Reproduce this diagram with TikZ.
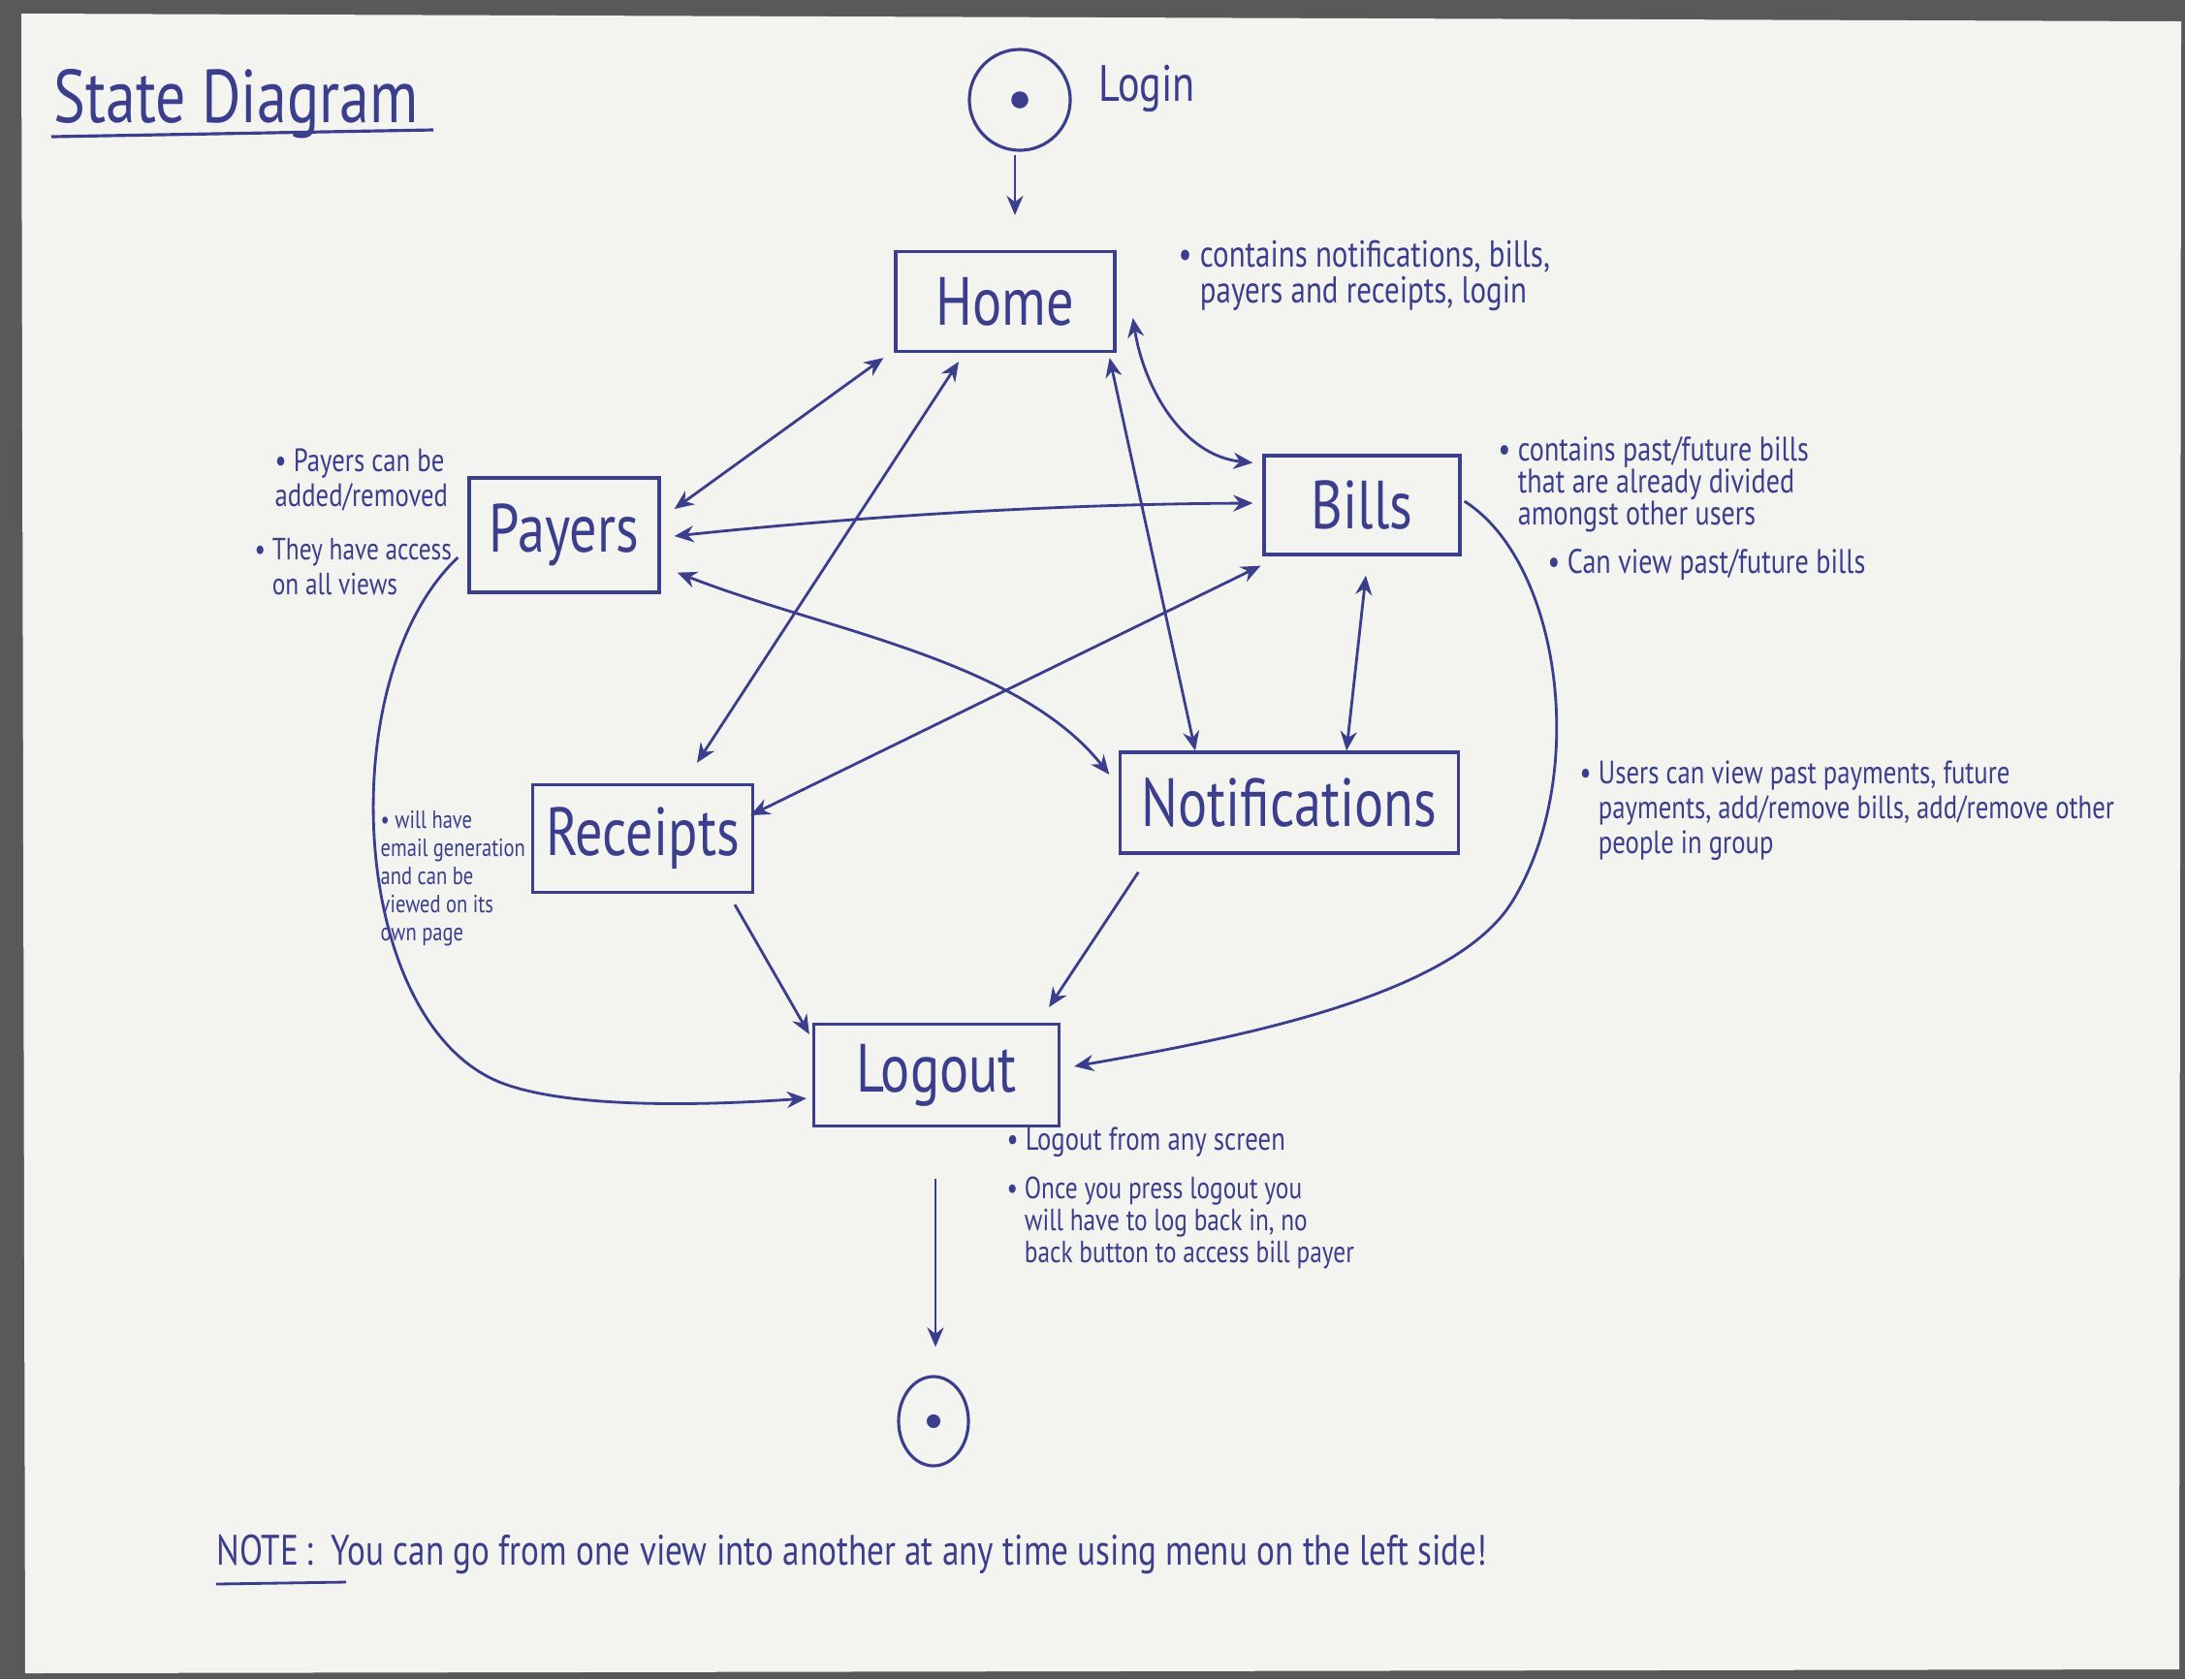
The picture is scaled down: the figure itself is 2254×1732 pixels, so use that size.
\documentclass[tikz,border=0pt]{standalone}
\usepackage{fontspec}
\setmainfont{PT Sans}[FakeStretch=0.8]
\usepackage{tikz}
\usetikzlibrary{arrows.meta,calc,shapes.geometric}
\definecolor{ink}{RGB}{58,62,140}
\definecolor{paper}{RGB}{243,243,240}
\newcommand{\noteind}{\phantom{\textbullet\ }}

\begin{document}
\begin{tikzpicture}[x=0.01cm,y=-0.01cm,
  state/.style={shape=rectangle,draw=ink,line width=0.9pt,text=ink,inner sep=0pt,font=\fontsize{20}{20}\selectfont},
  note/.style={anchor=north west,align=left,inner sep=0pt,text=ink},
  link/.style={draw=ink,line width=0.8pt,{Stealth[length=2mm,width=1.7mm]}-{Stealth[length=2mm,width=1.7mm]}},
  oneway/.style={draw=ink,line width=0.8pt,-{Stealth[length=2mm,width=1.7mm]}}]

	\fill[black!65] (0,0) rectangle (2254,1732);
	\fill[paper] (22,14) -- (2250,22) -- (2248,1722) -- (26,1726) -- cycle;

	\node[text=ink,anchor=base west,inner sep=0pt,font=\fontsize{22}{22}\selectfont] (title) at (55,126) {State Diagram};
	\draw[ink,line width=0.9pt] ($(title.base west)+(-2,15)$) -- ($(title.base west)+(392,8)$);

	\node[shape=circle,draw=ink,line width=0.9pt,minimum size=1.04cm] (login) at (1052,103) {};
	\fill[ink] (login) circle[radius=2.5pt];
	\node[text=ink,anchor=base west,inner sep=0pt,font=\fontsize{15}{15}\selectfont] (logintxt) at (1133,104) {Login};

	\node[state,minimum width=2.26cm,minimum height=1.03cm] (home) at (1037,311) {Home};
	\node[state,minimum width=1.96cm,minimum height=1.18cm] (payers) at (582,552) {Payers};
	\node[state,minimum width=2.02cm,minimum height=1.02cm] (bills) at (1405,521) {Bills};
	\node[state,minimum width=2.27cm,minimum height=1.11cm] (receipts) at (663,865) {Receipts};
	\node[state,minimum width=3.48cm,minimum height=1.04cm] (notif) at (1330,828) {Notifications};
	\node[state,minimum width=2.53cm,minimum height=1.05cm] (logout) at (966,1109) {Logout};

	\node[shape=ellipse,draw=ink,line width=0.9pt,minimum width=0.72cm,minimum height=0.92cm,inner sep=0pt] (final) at (963,1466) {};
	\fill[ink] (final) circle[radius=2pt];

	\draw[oneway] ($(login.south)+(-5,3)$) -- ($(home.north)+(10,-36)$);
	\draw[link] ($(home.south west)+(-11,5)$) -- ($(payers.east)+(14,-27)$);
	\draw[link] ($(home.south)+(-48,9)$) -- ($(receipts.north)+(56,-21)$);
	\draw[link] ($(home.south east)+(-7,5)$) -- ($(notif.north)+(-97,0)$);
	\draw[link] ($(home.east)+(17,17)$) .. controls (1180,400) and (1220,470) .. ($(bills.north west)+(-10,9)$);
	\draw[link] ($(payers.east)+(14,1)$) .. controls (894,532) and (1094,520) .. ($(bills.west)+(-10,-2)$);
	\draw[link] ($(payers.south east)+(17,-22)$) .. controls (850,650) and (1050,680) .. ($(notif.west)+(-10,-29)$);
	\draw[link] ($(bills.south west)+(-2,10)$) -- ($(receipts.east)+(-4,-24)$);
	\draw[link] ($(bills.south)+(4,20)$) -- ($(notif.north)+(59,0)$);
	\draw[oneway] ($(receipts.south)+(95,11)$) -- ($(logout.north west)+(-3,12)$);
	\draw[oneway] ($(notif.south west)+(20,18)$) -- ($(logout.north east)+(-12,-16)$);
	\draw[oneway] ($(payers.west)+(-10,23)$) .. controls (340,700) and (360,1060) .. (520,1118)
		.. controls (600,1147) and (760,1138) .. ($(logout.west)+(-6,24)$);
	\draw[oneway] ($(bills.east)+(3,-4)$) .. controls (1610,580) and (1640,800) .. (1560,930)
		.. controls (1500,1027) and (1280,1070) .. ($(logout.east)+(14,-9)$);
	\draw[oneway] ($(logout.south)+(-1,53)$) -- ($(final.north)+(2,-29)$);

	\node[note,font=\fontsize{11}{10.5}\selectfont] (homenote) at (1215,247) {\textbullet\ contains notifications, bills,\\\noteind payers and receipts, login};
	\node[note,font=\fontsize{9.5}{10.2}\selectfont] (payersnote) at (283,462) {\textbullet\ Payers can be\\ added/removed};
	\node[note,font=\fontsize{9}{10.2}\selectfont] (accessnote) at (262,555) {\textbullet\ They have access\\\noteind on all views};
	\node[note,font=\fontsize{10}{9.4}\selectfont] (billsnote) at (1545,450) {\textbullet\ contains past/future bills\\\noteind that are already divided\\\noteind amongst other users};
	\node[note,font=\fontsize{10}{9.4}\selectfont] (viewnote) at (1596,566) {\textbullet\ Can view past/future bills};
	\node[note,font=\fontsize{7.3}{8.2}\selectfont] (receiptsnote) at (392,836) {\textbullet\ will have\\ email generation\\and can be\\viewed on its\\own page};
	\node[note,font=\fontsize{9.5}{10.2}\selectfont] (usersnote) at (1629,784) {\textbullet\ Users can view past payments, future\\\noteind payments, add/remove bills, add/remove other\\\noteind people in group};
	\node[note,font=\fontsize{9.5}{9.4}\selectfont] (logoutnote) at (1038,1162) {\textbullet\ Logout from any screen};
	\node[note,font=\fontsize{9}{9.4}\selectfont] (pressnote) at (1038,1213) {\textbullet\ Once you press logout you\\\noteind will have to log back in, no\\\noteind back button to access bill payer};

	\node[note,font=\fontsize{12.5}{12.5}\selectfont] (footnote) at (223,1582) {NOTE\,:\ \ You can go from one view into another at any time using menu on the left side!};
	\draw[ink,line width=0.8pt] ($(footnote.north west)+(0,52)$) -- ++(134,-2);

\end{tikzpicture}
\end{document}
